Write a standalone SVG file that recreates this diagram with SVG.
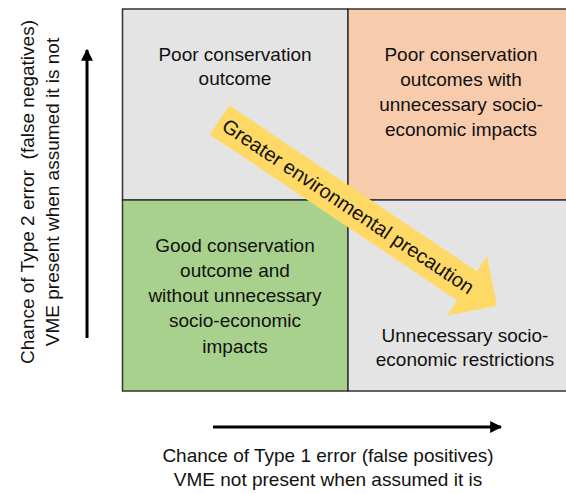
<svg xmlns="http://www.w3.org/2000/svg" width="566" height="493" viewBox="0 0 566 493">
<style>
text{font-family:"Liberation Sans",Arial,sans-serif;font-size:19px;fill:#111;text-anchor:middle}
.q{stroke:#333;stroke-width:1.5}
.ax{stroke:#000;stroke-width:3;fill:none}
</style>
<defs>
<marker id="ah" viewBox="0 0 10 10" refX="9" refY="5" markerWidth="4" markerHeight="4" orient="auto" markerUnits="strokeWidth">
<path d="M0,0 L10,5 L0,10 z" fill="#000"/>
</marker>
</defs>
<rect width="566" height="493" fill="#fff"/>
<g id="q-top-left">
<rect class="q" x="122.5" y="9" width="225.5" height="191" fill="#e4e4e4"/>
<text x="235" y="61">Poor conservation</text>
<text x="235" y="85">outcome</text>
</g>
<g id="q-top-right">
<rect class="q" x="348" y="9" width="222" height="191" fill="#f8cbad"/>
<text x="461" y="61">Poor conservation</text>
<text x="461" y="86">outcomes with</text>
<text x="461" y="111">unnecessary socio-</text>
<text x="461" y="136">economic impacts</text>
</g>
<g id="q-bottom-left">
<rect class="q" x="122.5" y="200" width="225.5" height="191" fill="#a9d18e"/>
<text x="235" y="252">Good conservation</text>
<text x="235" y="277">outcome and</text>
<text x="235" y="302">without unnecessary</text>
<text x="235" y="327">socio-economic</text>
<text x="235" y="353">impacts</text>
</g>
<g id="q-bottom-right">
<rect class="q" x="348" y="200" width="222" height="191" fill="#e4e4e4"/>
<text x="465" y="342">Unnecessary socio-</text>
<text x="465" y="366">economic restrictions</text>
</g>
<g id="precaution-arrow" transform="translate(219.5,120) rotate(33.8)">
<path d="M0,-17.6 L298,-17.6 L298,-35.7 L334,0 L298,35.7 L298,17.6 L0,17.6 z" fill="#ffd966"/>
<text x="6" y="7" style="text-anchor:start;font-size:20px">Greater environmental precaution</text>
</g>
<g id="connectors">
<line class="ax" x1="87" y1="338" x2="87" y2="50" marker-end="url(#ah)"/>
<line class="ax" x1="213" y1="427" x2="501" y2="427" marker-end="url(#ah)"/>
</g>
<g id="y-axis-label" transform="translate(0,192) rotate(-90)">
<text x="0" y="34" xml:space="preserve">Chance of Type 2 error  (false negatives)</text>
<text x="0" y="59">VME present when assumed it is not</text>
</g>
<g id="x-axis-label">
<text x="328" y="462">Chance of Type 1 error (false positives)</text>
<text x="328" y="486">VME not present when assumed it is</text>
</g>
</svg>
